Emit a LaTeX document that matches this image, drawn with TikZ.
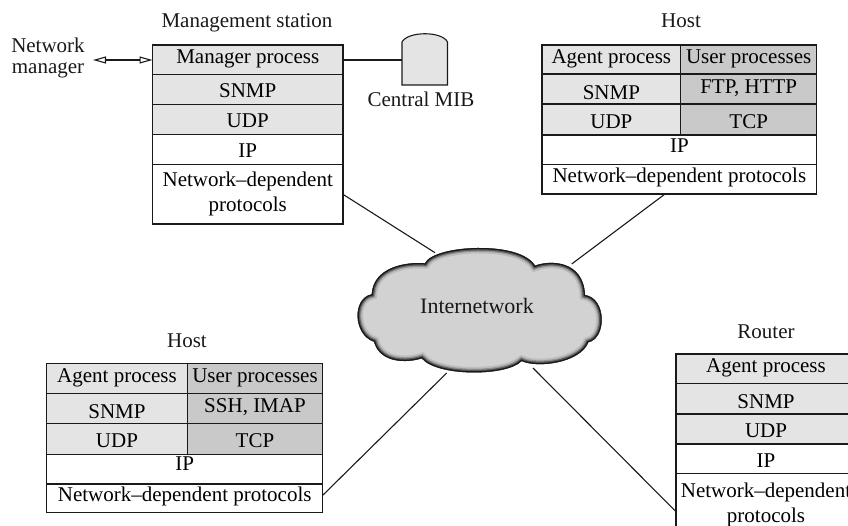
\documentclass[tikz,border=0pt]{standalone}
\usepackage{fontspec}
\setmainfont{Liberation Serif}
\usetikzlibrary{arrows.meta}
\definecolor{lightcell}{HTML}{E4E4E4}
\definecolor{darkcell}{HTML}{C9C9C9}
\definecolor{cloudfill}{HTML}{D2D2D2}
\definecolor{inkline}{HTML}{1A1A1A}
\tikzset{
  cell/.style={draw=inkline,line width=1.3pt,inner sep=0pt,outer sep=0pt,font=\fontsize{21}{24}\selectfont,text height=14pt,text depth=4pt,align=center},
  lab/.style={inner sep=0pt,anchor=base,font=\fontsize{21}{24}\selectfont,text=black!90},
  link/.style={draw=inkline,line width=1.1pt}
}
% name x1 y1 x2 y2 fill baseline text
\newcommand{\cellbox}[8]{%
  \pgfmathsetmacro{\cx}{(#2+#4)/2}\pgfmathsetmacro{\cy}{(#3+#5)/2}%
  \pgfmathsetmacro{\cw}{#4-#2}\pgfmathsetmacro{\ch}{#5-#3}%
  \pgfmathsetmacro{\cd}{\cy+5-#7}%
  \node[cell,fill=#6,minimum width=\cw pt,minimum height=\ch pt] (#1) at (\cx,\cy) {\raisebox{\cd pt}{#8}};}
\newcommand{\twolines}[2]{\begin{tabular}[t]{@{}c@{}}#1\\[1pt]#2\end{tabular}}
\def\cloudpath{(425,263.3) .. controls (433.3,245) and (520,240) .. (535,265.7)
 .. controls (550,260) and (583.3,260) .. (585,295)
 .. controls (606.7,298.3) and (606.7,338.3) .. (588.3,342.3)
 .. controls (580,363.3) and (536.7,368.3) .. (521.7,361)
 .. controls (506.7,376.7) and (436.7,376.7) .. (421.7,358.3)
 .. controls (406.7,363.3) and (380,363.3) .. (374,341.7)
 .. controls (353.3,335) and (351.7,298.3) .. (371.7,294.3)
 .. controls (373.3,266.7) and (406.7,261.7) .. (425,263.3) -- cycle}
\begin{document}
\begin{tikzpicture}[x=1pt,y=-1pt]
\useasboundingbox (0,0) rectangle (848,526);
\clip (0,0) rectangle (848,526);
% cloud
\fill[cloudfill] \cloudpath;
\begin{scope}
\clip \cloudpath;
\draw[black!26,line width=11pt] \cloudpath;
\draw[black!42,line width=7.5pt] \cloudpath;
\draw[black!65,line width=5pt] \cloudpath;
\draw[black!90,line width=2.5pt] \cloudpath;
\end{scope}
\node[lab,font=\fontsize{22}{24}\selectfont] (net) at (477,313) {Internetwork};
% management station
\cellbox{m1}{152.5}{45}{343}{74.5}{lightcell}{64}{Manager process}
\cellbox{m2}{152.5}{74.5}{343}{104.3}{lightcell}{98}{SNMP}
\cellbox{m3}{152.5}{104.3}{343}{134.7}{lightcell}{128}{UDP}
\cellbox{m4}{152.5}{134.7}{343}{164.7}{white}{157.7}{IP}
\cellbox{m5}{152.5}{164.7}{343}{224}{white}{186.7}{\twolines{Network–dependent}{protocols}}
\node[lab] (mt) at (247,28) {Management station};
% host, upper right
\cellbox{a1}{542}{45}{680.7}{74}{lightcell}{64}{Agent process}
\cellbox{a2}{680.7}{45}{816.7}{74}{darkcell}{64}{User processes}
\cellbox{a3}{542}{74}{680.7}{104}{lightcell}{99.3}{SNMP}
\cellbox{a4}{680.7}{74}{816.7}{104}{darkcell}{93.3}{FTP, HTTP}
\cellbox{a5}{542}{104}{680.7}{135}{lightcell}{128.3}{UDP}
\cellbox{a6}{680.7}{104}{816.7}{135}{darkcell}{128.3}{TCP}
\cellbox{a7}{542}{135}{816.7}{164.3}{white}{152.7}{IP}
\cellbox{a8}{542}{164.3}{816.7}{194}{white}{182.7}{Network–dependent protocols}
\node[lab] (at) at (681,28) {Host};
% host, lower left
\cellbox{b1}{46.7}{363.3}{187.3}{393.3}{lightcell}{382.7}{Agent process}
\cellbox{b2}{187.3}{363.3}{322.7}{393.3}{darkcell}{382.7}{User processes}
\cellbox{b3}{46.7}{393.3}{187.3}{423.3}{lightcell}{418}{SNMP}
\cellbox{b4}{187.3}{393.3}{322.7}{423.3}{darkcell}{412}{SSH, IMAP}
\cellbox{b5}{46.7}{423.3}{187.3}{454.3}{lightcell}{447}{UDP}
\cellbox{b6}{187.3}{423.3}{322.7}{454.3}{darkcell}{447}{TCP}
\cellbox{b7}{46.7}{454.3}{322.7}{484}{white}{470}{IP}
\cellbox{b8}{46.7}{484}{322.7}{512.7}{white}{501.7}{Network–dependent protocols}
\node[lab] (bt) at (187,347) {Host};
% router
\cellbox{r1}{676}{354}{856}{383.3}{lightcell}{372.3}{Agent process}
\cellbox{r2}{676}{383.3}{856}{414}{lightcell}{408.3}{SNMP}
\cellbox{r3}{676}{414}{856}{444}{lightcell}{437.3}{UDP}
\cellbox{r4}{676}{444}{856}{473.3}{white}{467.3}{IP}
\cellbox{r5}{676}{473.3}{856}{560}{white}{497.7}{\twolines{Network–dependent}{protocols}}
\node[lab] (rt) at (766,338) {Router};
% network manager
\node[lab] (nm1) at (48,53) {Network};
\node[lab] (nm2) at (48,74) {manager};
\coordinate (nmend) at (93,60);
\draw[link,{Triangle[open,length=13pt,width=7pt]}-{Triangle[open,length=13pt,width=7pt]}] (nmend) -- (nmend -| m1.west);
% central MIB
\draw[draw=inkline,line width=1.1pt,fill=lightcell] (402,85) -- (402,42) .. controls (408,31) and (442,31) .. (447.5,42) -- (447.5,85) -- cycle;
\coordinate (mibw) at (402,60);
\draw[link] (m1.east |- mibw) -- (mibw);
\node[lab] (mibt) at (421,107) {Central MIB};
% connectors to the cloud
\coordinate (c1) at (435,252.7);
\coordinate (c2) at (571.7,264);
\coordinate (c3) at (446.7,373);
\coordinate (c4) at (533,368);
\coordinate (a8s) at (665,194);
\coordinate (b8e) at (323,495);
\coordinate (r5w) at (676,511.7);
\draw[link] (m5.east) -- (c1);
\draw[link] (a8s) -- (c2);
\draw[link] (b8e) -- (c3);
\draw[link] (r5w) -- (c4);
\end{tikzpicture}
\end{document}
